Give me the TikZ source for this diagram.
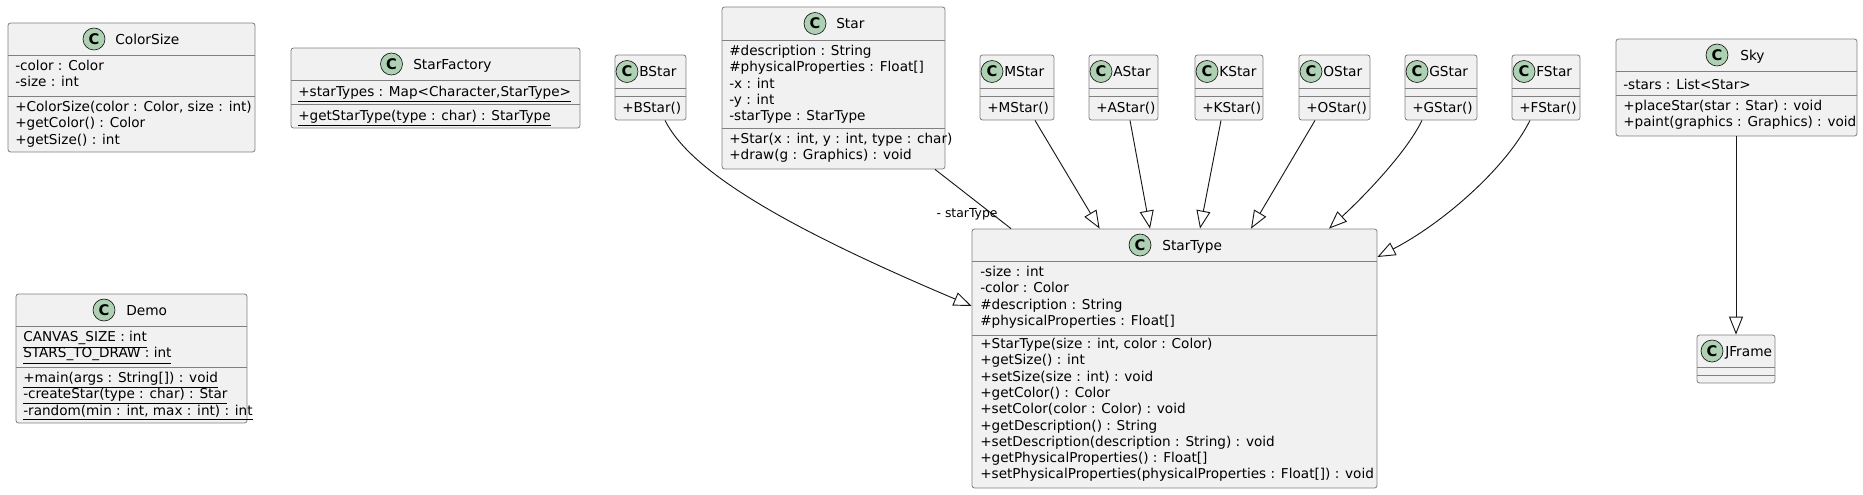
\documentclass[tikz,border=0pt]{standalone}
\usepackage{fontspec}
\setmainfont{DejaVu Sans}
\usepackage{tikz}
\usetikzlibrary{arrows.meta,fit}
\definecolor{boxfill}{HTML}{F1F1F1}
\definecolor{boxline}{HTML}{808080}
\definecolor{markfill}{HTML}{ADD1B2}
\definecolor{edgeline}{HTML}{181818}

\newcommand{\umlclass}[7]{%
  \node[classbox, fit={(#2,#3) (#4,#5)}] (#1) {};
  \draw[classline] (#2,#6) -- (#4,#6);
  \draw[classline] (#2,#7) -- (#4,#7);
}
\newcommand{\umlhead}[5]{%
  \node[classmark] (#1-c) at (#2,#3) {C};
  \node[classname] (#1-n) at (#4,{#3+5}) {#5};
}

\begin{document}
\begin{tikzpicture}[x=0.75pt,y=-0.75pt,
    classbox/.style={draw=boxline,fill=boxfill,line width=0.6pt,rounded corners=1.9pt,inner sep=0pt},
    classline/.style={draw=boxline,line width=0.6pt},
    classmark/.style={circle,draw=edgeline,fill=markfill,line width=0.5pt,minimum size=16.5pt,inner sep=0pt,
      font=\fontsize{11}{11}\selectfont\bfseries},
    classname/.style={anchor=base west,inner sep=0pt,font=\fontsize{10.3}{12.2}\selectfont},
    members/.style={anchor=north west,yshift=8.55pt,align=left,inner sep=0pt,
      font=\fontsize{10.2}{12.2}\selectfont,execute at begin node=\strut},
    rolelabel/.style={inner sep=0pt,font=\fontsize{9.3}{11}\selectfont},
    extends/.style={draw=edgeline,line width=0.7pt,-{Triangle[open,length=13.5pt,width=10.5pt]}},
    assoc/.style={draw=edgeline,line width=0.7pt}]
  \useasboundingbox (0,0) rectangle (1863,494);

  \umlclass{colorsize}{8}{23}{255}{152}{55}{96}
  \umlhead{colorsize}{94}{39}{115}{ColorSize}
  \node[members] (colorsize-a) at (15,71.5) {-color : Color\\-size : int};
  \node[members] (colorsize-m) at (15,112.5) {+ColorSize(color : Color, size : int)\\+getColor() : Color\\+getSize() : int};

  \umlclass{starfactory}{291}{48}{580}{128}{80}{104}
  \umlhead{starfactory}{391.5}{64}{413}{StarFactory}
  \node[members] (starfactory-a) at (298,96.5) {\underline{+starTypes : Map<Character,StarType>}};
  \node[members] (starfactory-m) at (298,120.5) {\underline{+getStarType(type : char) : StarType}};

  \umlclass{demo}{16}{294}{247}{423}{326}{367}
  \umlhead{demo}{104}{310}{126}{Demo}
  \node[members] (demo-a) at (23,342.5) {\underline{CANVAS\_SIZE : int}\\\underline{STARS\_TO\_DRAW : int}};
  \node[members] (demo-m) at (23,383.5) {\underline{+main(args : String[]) : void}\\\underline{-createStar(type : char) : Star}\\\underline{-random(min : int, max : int) : int}};

  \umlclass{star}{722}{7}{945}{169}{40}{128}
  \umlhead{star}{815}{23.5}{836}{Star}
  \node[members] (star-a) at (729,56.5) {\#description : String\\\#physicalProperties : Float[]\\-x : int\\-y : int\\-starType : StarType};
  \node[members] (star-m) at (729,144.5) {+Star(x : int, y : int, type : char)\\+draw(g : Graphics) : void};

  \umlclass{bstar}{615}{55}{686}{120}{88}{96}
  \umlhead{bstar}{627}{71.5}{639}{BStar}
  \node[members] (bstar-m) at (622,112.5) {+BStar()};
  \umlclass{mstar}{980}{55}{1054}{120}{88}{96}
  \umlhead{mstar}{992}{71.5}{1004}{MStar}
  \node[members] (mstar-m) at (987,112.5) {+MStar()};
  \umlclass{astar}{1089}{55}{1158}{120}{88}{96}
  \umlhead{astar}{1101}{71.5}{1113}{AStar}
  \node[members] (astar-m) at (1096,112.5) {+AStar()};
  \umlclass{kstar}{1195}{55}{1263}{120}{88}{96}
  \umlhead{kstar}{1207}{71.5}{1219}{KStar}
  \node[members] (kstar-m) at (1202,112.5) {+KStar()};
  \umlclass{ostar}{1299}{55}{1370}{120}{88}{96}
  \umlhead{ostar}{1311}{71.5}{1323}{OStar}
  \node[members] (ostar-m) at (1306,112.5) {+OStar()};
  \umlclass{gstar}{1405}{55}{1477}{120}{88}{96}
  \umlhead{gstar}{1417}{71.5}{1429}{GStar}
  \node[members] (gstar-m) at (1412,112.5) {+GStar()};
  \umlclass{fstar}{1512}{55}{1580}{120}{88}{96}
  \umlhead{fstar}{1524}{71.5}{1536}{FStar}
  \node[members] (fstar-m) at (1519,112.5) {+FStar()};

  \umlclass{sky}{1616}{39}{1857}{136}{71}{95}
  \umlhead{sky}{1717}{55}{1740}{Sky}
  \node[members] (sky-a) at (1623,89.5) {-stars : List<Star>};
  \node[members] (sky-m) at (1623,111.5) {+placeStar(star : Star) : void\\+paint(graphics : Graphics) : void};

  \umlclass{jframe}{1697}{335}{1775}{383}{367}{375}
  \umlhead{jframe}{1712}{351}{1725}{JFrame}

  \umlclass{startype}{972}{229}{1377}{488}{261}{335}
  \umlhead{startype}{1140}{245}{1162}{StarType}
  \node[members] (startype-a) at (980,277.5) {-size : int\\-color : Color\\\#description : String\\\#physicalProperties : Float[]};
  \node[members] (startype-m) at (980,349.5) {+StarType(size : int, color : Color)\\+getSize() : int\\+setSize(size : int) : void\\+getColor() : Color\\+setColor(color : Color) : void\\+getDescription() : String\\+setDescription(description : String) : void\\+getPhysicalProperties() : Float[]\\+setPhysicalProperties(physicalProperties : Float[]) : void};

  \draw[extends] (665,0 |- bstar.south) .. controls (690,170) and (780,225) .. (startype.west |- 0,306);
  \draw[assoc] (935,0 |- star.south) -- node[rolelabel,pos=0.75,anchor=east,xshift=4.5pt] (startype-role) {- starType} (1011,0 |- startype.north);
  \draw[extends] (1035,0 |- mstar.south) -- (1099.6,0 |- startype.north);
  \draw[extends] (1130,0 |- astar.south) -- (1150,0 |- startype.north);
  \draw[extends] (1221,0 |- kstar.south) -- (1200,0 |- startype.north);
  \draw[extends] (1315,0 |- ostar.south) -- (1251,0 |- startype.north);
  \draw[extends] (1422,0 |- gstar.south) .. controls (1405,155) and (1360,200) .. (1329,0 |- startype.north);
  \draw[extends] (1530,0 |- fstar.south) .. controls (1505,170) and (1440,225) .. (startype.east |- 0,257);
  \draw[extends] (sky.south -| jframe.north) -- (jframe.north);
\end{tikzpicture}
\end{document}
